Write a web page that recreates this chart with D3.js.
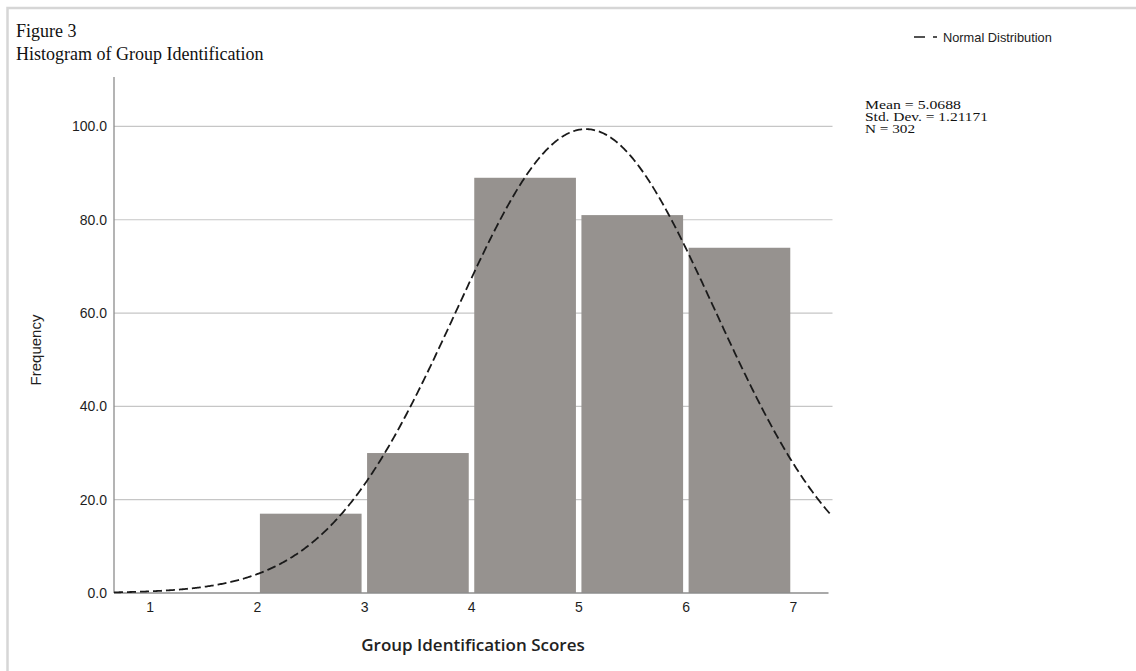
<!DOCTYPE html>
<html>
<head>
<meta charset="utf-8">
<script src="https://cdn.jsdelivr.net/npm/d3@7/dist/d3.min.js"></script>
<style>
  html, body { margin: 0; padding: 0; background: #fff; }
  svg { display: block; }
</style>
</head>
<body>
<svg id="chart" width="1136" height="671"></svg>
<script>
// ---- data ----
const binStarts = [2, 3, 4, 5, 6];
const binEnds   = [3, 4, 5, 6, 7];
const frequencies = [17, 30, 89, 81, 74];
const xTickValues = [1, 2, 3, 4, 5, 6, 7];
const yTickValues = [0, 20, 40, 60, 80, 100];
const statLabels = ["Mean = 5.0688", "Std. Dev. = 1.21171", "N = 302"];
// normal curve parameters as printed on the chart
const curveMean = 5.0688;
const curveSD = 1.21171;
const curveN = 302;
const binWidth = 1;

(function () {
const svg = d3.select("#chart");

// frame
svg.append("path")
  .attr("d", "M7.5,680 L7.5,8 L1140,8")
  .attr("fill", "none").attr("stroke", "#d6d6d6").attr("stroke-width", 2.5);

// titles
svg.append("text").attr("x", 16).attr("y", 37)
  .attr("font-family", "Liberation Serif, Times New Roman, serif")
  .attr("font-size", 18).attr("fill", "#111").text("Figure 3");
svg.append("text").attr("x", 16).attr("y", 59.5)
  .attr("font-family", "Liberation Serif, Times New Roman, serif")
  .attr("font-size", 18).attr("fill", "#111").text("Histogram of Group Identification");

const pLeft = 114, pRight = 828.5, pTop = 77, pBottom = 593;
const x = d3.scaleLinear().domain([2/3, 22/3]).range([pLeft, pRight]);
const y = d3.scaleLinear().domain([0, 110.6]).range([pBottom, pTop]);

// gridlines
svg.append("g")
  .selectAll("line").data(yTickValues.filter(d => d > 0)).join("line")
  .attr("x1", pLeft).attr("x2", pRight + 4)
  .attr("y1", d => y(d)).attr("y2", d => y(d))
  .attr("stroke", "#c6c6c6").attr("stroke-width", 1.2);

// bars
const bins = binStarts.map((s, i) => ({ x0: s, x1: binEnds[i], v: frequencies[i] }));
svg.append("g")
  .selectAll("rect").data(bins).join("rect")
  .attr("x", d => x(d.x0) + 3)
  .attr("width", d => x(d.x1) - x(d.x0) - 5.5)
  .attr("y", d => y(d.v))
  .attr("height", d => y(0) - y(d.v))
  .attr("fill", "#96928f");

// axes
const yAxis = d3.axisLeft(y).tickValues(yTickValues).tickSize(0).tickPadding(7)
  .tickFormat(d3.format(".1f"));
const yg = svg.append("g").attr("transform", `translate(${pLeft},0)`).call(yAxis);
yg.select(".domain").remove();
yg.selectAll("text").attr("font-family", "Liberation Sans, Arial, sans-serif")
  .attr("font-size", 14).attr("fill", "#1e1e1e");

const xAxis = d3.axisBottom(x).tickValues(xTickValues).tickSize(0).tickPadding(9)
  .tickFormat(d3.format("d"));
const xg = svg.append("g").attr("transform", `translate(0,${pBottom})`).call(xAxis);
xg.select(".domain").remove();
xg.selectAll("text").attr("font-family", "Liberation Sans, Arial, sans-serif")
  .attr("font-size", 14).attr("fill", "#1e1e1e");

svg.append("line").attr("x1", pLeft).attr("x2", pLeft).attr("y1", pTop).attr("y2", pBottom)
  .attr("stroke", "#8c8c8c").attr("stroke-width", 1.3);
svg.append("line").attr("x1", pLeft).attr("x2", pRight).attr("y1", pBottom).attr("y2", pBottom)
  .attr("stroke", "#8c8c8c").attr("stroke-width", 1.3);

// normal distribution curve
const dom = x.domain();
const curveXs = d3.range(dom[0], dom[1] + 0.03, 0.01);
const normalY = v => curveN * binWidth / (curveSD * Math.sqrt(2 * Math.PI)) *
  Math.exp(-0.5 * Math.pow((v - curveMean) / curveSD, 2));
svg.append("path")
  .datum(curveXs)
  .attr("d", d3.line().x(d => x(d)).y(d => y(normalY(d))))
  .attr("fill", "none").attr("stroke", "#1a1a1a").attr("stroke-width", 1.8)
  .attr("stroke-dasharray", "9,4");

// axis titles
svg.append("text")
  .attr("transform", "translate(41,350) rotate(-90)")
  .attr("text-anchor", "middle")
  .attr("font-family", "Liberation Sans, Arial, sans-serif")
  .attr("font-size", 15).attr("fill", "#1e1e1e").text("Frequency");
svg.append("text")
  .attr("x", 473).attr("y", 651)
  .attr("text-anchor", "middle")
  .attr("font-family", "Open Sans, Liberation Sans, sans-serif")
  .attr("font-weight", 600)
  .attr("font-size", 17).attr("fill", "#222").text("Group Identification Scores");

// legend
svg.append("line").attr("x1", 914).attr("x2", 937).attr("y1", 37).attr("y2", 37)
  .attr("stroke", "#1a1a1a").attr("stroke-width", 1.6).attr("stroke-dasharray", "11,8");
svg.append("text").attr("x", 943).attr("y", 41.5)
  .attr("font-family", "Liberation Sans, Arial, sans-serif")
  .attr("font-size", 12.8).attr("fill", "#222").text("Normal Distribution");

// stats
const statWidths = [96, 123, 50];
svg.append("g").selectAll("text").data(statLabels).join("text")
  .attr("x", 865).attr("y", (d, i) => 109 + i * 12)
  .attr("font-family", "Liberation Serif, Times New Roman, serif")
  .attr("font-size", 11.5).attr("fill", "#111")
  .attr("textLength", (d, i) => statWidths[i]).attr("lengthAdjust", "spacingAndGlyphs")
  .text(d => d);
})();
</script>
</body>
</html>
